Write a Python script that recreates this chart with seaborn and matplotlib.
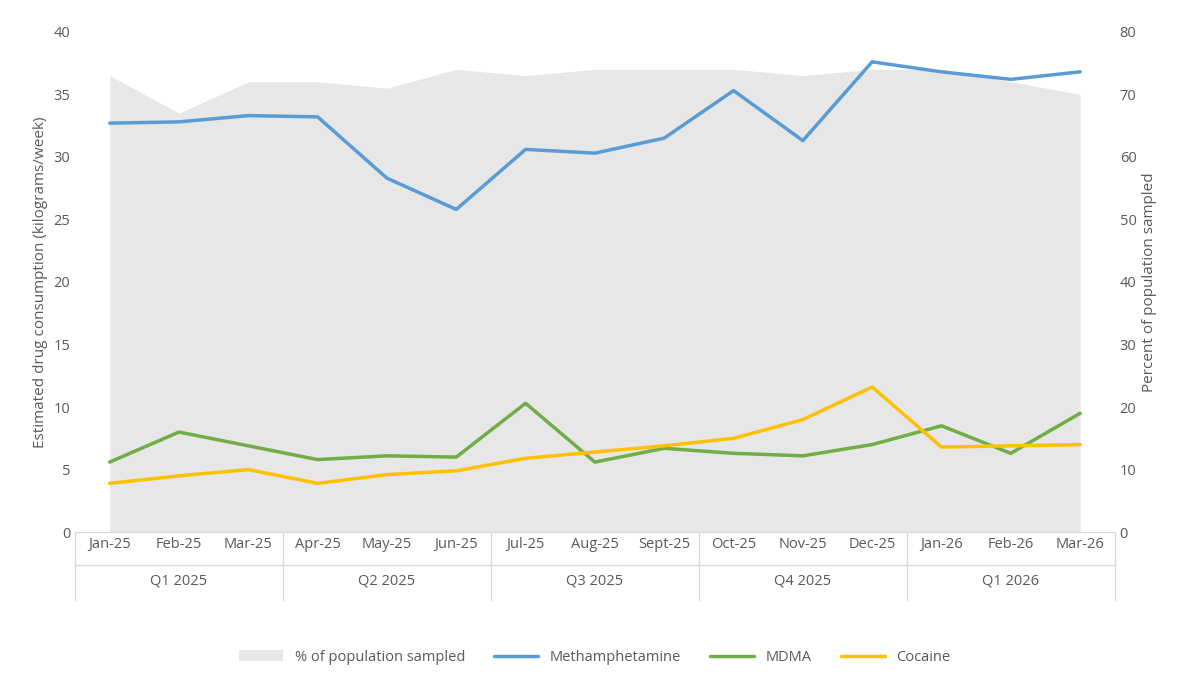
import numpy as np
import pandas as pd
import seaborn as sns
import matplotlib.pyplot as plt
import matplotlib.transforms as mtransforms

# Datos
meses = ["Jan-25", "Feb-25", "Mar-25", "Apr-25", "May-25", "Jun-25", "Jul-25", "Aug-25",
         "Sept-25", "Oct-25", "Nov-25", "Dec-25", "Jan-26", "Feb-26", "Mar-26"]
trimestres = ["Q1 2025", "Q2 2025", "Q3 2025", "Q4 2025", "Q1 2026"]
metanfetamina = [32.7, 32.8, 33.3, 33.2, 28.3, 25.8, 30.6, 30.3, 31.5, 35.3, 31.3, 37.6, 36.8, 36.2, 36.8]
mdma = [5.6, 8.0, 6.9, 5.8, 6.1, 6.0, 10.3, 5.6, 6.7, 6.3, 6.1, 7.0, 8.5, 6.3, 9.5]
cocaina = [3.9, 4.5, 5.0, 3.9, 4.6, 4.9, 5.9, 6.4, 6.9, 7.5, 9.0, 11.6, 6.8, 6.9, 7.0]
poblacion = [73, 67, 72, 72, 71, 74, 73, 74, 74, 74, 73, 74, 74, 72, 70]

x = np.arange(len(meses))
datos = pd.DataFrame({"x": x, "Methamphetamine": metanfetamina, "MDMA": mdma, "Cocaine": cocaina})

sns.set_style("white")
plt.rcParams['font.family'] = ['Open Sans', 'DejaVu Sans']
gris = "#595959"

fig = plt.figure(figsize=(12, 6.77), dpi=100)
ax = fig.add_axes([0.0625, 0.214, 0.8665, 0.739])
ax2 = ax.twinx()

# Área del porcentaje de población (eje derecho)
ax2.fill_between(x, poblacion, color="#e7e7e7", linewidth=0, label="% of population sampled")
ax2.set_ylim(0, 80)
ax2.set_yticks(range(0, 81, 10))
ax2.set_ylabel("Percent of population sampled", color=gris, fontsize=11)

ax.set_zorder(2)
ax.patch.set_visible(False)

# Líneas de consumo
colores = {"Methamphetamine": "#5b9bd5", "MDMA": "#70ad47", "Cocaine": "#ffc000"}
for droga, color in colores.items():
    sns.lineplot(data=datos, x="x", y=droga, ax=ax, color=color, linewidth=2.5, label=droga)

ax.set_ylim(0, 40)
ax.set_yticks(range(0, 41, 5))
ax.set_xlim(-0.5, 14.5)
ax.set_xticks(x)
ax.set_xticklabels(meses)
ax.set_xlabel("")
ax.set_ylabel("Estimated drug consumption (kilograms/week)", color=gris, fontsize=11)
for a in (ax, ax2):
    a.tick_params(colors=gris, labelsize=10.5, length=0)
    for s in a.spines.values():
        s.set_visible(False)
ax.spines["bottom"].set_visible(True)
ax.spines["bottom"].set_color("#d9d9d9")

# Etiquetas de trimestre y separadores
trans = mtransforms.blended_transform_factory(ax.transData, ax.transAxes)
for b in [-0.5, 2.5, 5.5, 8.5, 11.5, 14.5]:
    ax.plot([b, b], [0, -0.136], transform=trans, color="#d9d9d9", lw=1, clip_on=False)
ax.plot([-0.5, 14.5], [-0.066, -0.066], transform=trans, color="#d9d9d9", lw=1, clip_on=False)
for i, t in enumerate(trimestres):
    ax.text(3 * i + 1, -0.098, t, transform=trans, ha="center", va="center", color=gris, fontsize=10.5)

# Leyenda
h1, l1 = ax2.get_legend_handles_labels()
h2, l2 = ax.get_legend_handles_labels()
ax.legend(h1 + h2, l1 + l2, loc="center", bbox_to_anchor=(0.5, -0.25), ncol=4, frameon=False,
          fontsize=10.5, labelcolor=gris, columnspacing=2, handlelength=3)

plt.savefig("out.png")
